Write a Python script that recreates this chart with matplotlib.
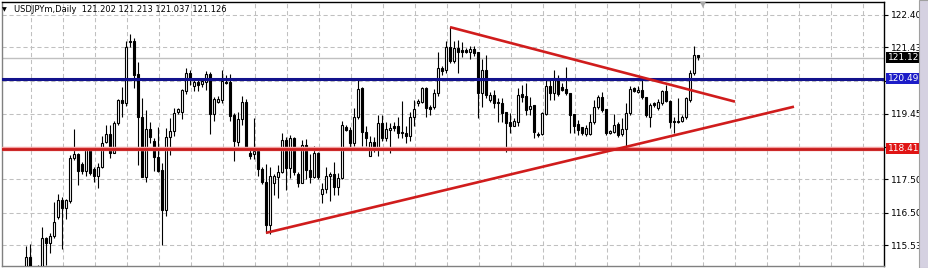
import matplotlib
matplotlib.use("Agg")
import numpy as np
import matplotlib.pyplot as plt
from matplotlib.patches import Rectangle

# daily USDJPYm bars, oldest first
opens = [114.70, 115.18, 114.60, 114.55, 114.80, 115.75, 115.60, 115.81, 116.38, 116.88,
         116.63, 116.86, 118.12, 118.25, 117.95, 117.75, 118.42, 117.80, 117.60, 117.85,
         118.62, 118.84, 118.29, 119.17, 119.86, 119.78, 121.60, 121.63, 120.63, 119.34,
         117.57, 118.99, 118.64, 118.15, 117.77, 116.58, 118.75, 118.93, 119.51, 119.51,
         120.14, 120.67, 120.28, 120.41, 120.34, 120.41, 120.64, 119.44, 119.81, 119.86,
         120.41, 120.41, 119.41, 118.62, 119.29, 119.80, 118.29, 118.24, 118.34, 117.80,
         117.43, 116.13, 117.38, 117.57, 117.72, 118.67, 117.82, 118.72, 117.65, 117.40,
         118.52, 117.77, 117.57, 118.29, 117.06, 117.20, 117.60, 117.65, 117.28, 117.53,
         119.05, 118.97, 118.59, 119.34, 120.21, 118.92, 118.19, 118.62, 118.42, 119.18,
         118.72, 118.97, 119.08, 119.08, 118.92, 118.87, 118.79, 119.36, 119.76, 119.81,
         120.21, 119.64, 119.64, 120.06, 120.80, 120.75, 121.43, 121.03, 121.40, 121.35,
         121.35, 121.30, 121.37, 121.30, 120.06, 120.75, 119.86, 120.01, 119.81, 119.76,
         119.51, 119.20, 119.08, 119.21, 120.04, 119.98, 119.58, 119.71, 118.85, 118.84,
         119.44, 120.28, 120.08, 120.51, 120.24, 120.18, 120.08, 119.43, 119.14, 119.05,
         118.85, 118.85, 119.21, 119.64, 119.94, 119.58, 118.89, 118.92, 119.14, 118.84,
         118.99, 119.46, 120.21, 120.11, 120.16, 119.94, 119.36, 119.76, 119.61, 119.78,
         120.13, 119.84, 119.22, 119.21, 119.24, 119.34, 119.86, 120.66, 121.202]
highs = [115.51, 115.57, 114.85, 114.93, 116.08, 115.78, 115.89, 116.83, 117.06, 116.98,
         116.90, 118.22, 119.00, 118.29, 118.00, 118.47, 118.47, 117.87, 117.97, 118.79,
         119.11, 119.11, 119.22, 119.88, 120.26, 121.63, 121.83, 121.70, 121.00, 119.91,
         119.56, 119.20, 118.72, 119.05, 117.97, 119.02, 119.31, 119.61, 119.61, 120.19,
         120.80, 120.76, 120.47, 120.47, 120.47, 120.73, 120.70, 119.96, 119.98, 120.75,
         120.60, 120.64, 119.48, 119.49, 119.98, 119.88, 118.37, 119.31, 118.37, 117.87,
         117.95, 117.87, 117.65, 117.92, 118.87, 118.77, 118.82, 118.75, 117.72, 118.67,
         118.69, 118.25, 118.49, 118.30, 117.38, 117.87, 117.72, 118.02, 117.68, 119.24,
         119.10, 119.05, 119.61, 120.48, 120.26, 119.08, 118.79, 118.77, 119.41, 119.41,
         119.20, 119.17, 119.20, 119.34, 119.84, 119.08, 119.51, 119.86, 119.88, 120.26,
         120.24, 119.71, 120.19, 121.30, 120.88, 121.63, 122.04, 121.63, 121.65, 121.60,
         121.40, 121.47, 121.47, 121.30, 121.07, 121.20, 120.11, 120.16, 119.91, 119.91,
         119.51, 119.48, 119.31, 120.21, 120.31, 120.36, 119.94, 119.71, 118.92, 119.51,
         120.48, 120.46, 120.75, 120.60, 120.36, 120.83, 120.08, 119.43, 119.26, 119.06,
         119.10, 119.44, 119.86, 120.01, 120.11, 119.60, 118.97, 119.44, 119.21, 119.31,
         119.78, 120.28, 120.26, 120.28, 120.54, 119.96, 119.78, 119.81, 119.88, 120.16,
         120.31, 119.86, 119.36, 119.91, 119.41, 119.96, 120.75, 121.47, 121.213]
lows = [114.50, 114.50, 114.30, 114.30, 114.70, 114.94, 115.29, 115.74, 116.31, 115.41,
        116.30, 116.80, 118.07, 117.34, 117.65, 117.60, 117.63, 117.43, 117.23, 117.82,
        118.59, 118.12, 118.27, 119.11, 119.34, 119.68, 121.45, 120.21, 117.92, 117.55,
        117.43, 118.57, 117.75, 117.72, 115.54, 116.40, 118.22, 118.79, 119.44, 119.28,
        120.04, 120.32, 120.14, 120.14, 120.25, 120.17, 118.85, 119.24, 119.76, 119.78,
        120.33, 119.24, 118.05, 118.50, 119.11, 118.43, 118.10, 118.09, 117.60, 117.35,
        115.89, 115.87, 117.03, 116.93, 117.68, 117.18, 117.53, 117.62, 117.28, 117.38,
        117.50, 117.38, 117.53, 117.50, 116.78, 117.08, 116.86, 117.03, 117.03, 117.50,
        118.95, 118.45, 118.50, 119.28, 118.49, 118.49, 118.19, 118.30, 118.19, 118.64,
        118.65, 118.29, 118.95, 118.72, 118.72, 118.59, 118.65, 119.08, 119.68, 119.78,
        119.36, 119.41, 119.58, 119.98, 120.60, 120.67, 120.97, 120.97, 120.67, 121.13,
        121.25, 121.07, 121.17, 119.31, 119.66, 119.91, 119.81, 119.63, 119.21, 119.21,
        118.32, 118.87, 119.08, 119.08, 119.81, 119.41, 119.41, 118.72, 118.77, 118.82,
        119.41, 119.86, 119.86, 119.98, 120.13, 120.01, 118.89, 118.87, 118.82, 118.82,
        118.80, 118.82, 119.15, 119.60, 119.50, 118.82, 118.85, 118.89, 118.77, 118.80,
        118.49, 119.41, 120.10, 120.08, 119.88, 119.36, 119.05, 119.66, 119.56, 119.72,
        119.80, 119.02, 118.89, 119.17, 119.20, 119.30, 119.81, 120.60, 121.037]
closes = [115.18, 114.70, 114.50, 114.80, 115.74, 115.60, 115.81, 116.22, 116.88, 116.63,
          116.88, 118.12, 118.25, 117.75, 117.75, 118.42, 117.68, 117.60, 117.85, 118.57,
          118.84, 118.29, 119.17, 119.86, 119.78, 121.43, 121.63, 120.60, 119.34, 117.57,
          118.99, 118.75, 118.15, 117.75, 116.58, 118.75, 118.93, 119.46, 119.58, 120.16,
          120.67, 120.48, 120.41, 120.31, 120.44, 120.64, 119.44, 119.89, 119.89, 120.43,
          120.36, 119.38, 118.65, 119.29, 119.80, 118.45, 118.19, 118.34, 117.80, 117.43,
          116.13, 117.60, 117.60, 117.72, 118.67, 117.82, 118.72, 117.72, 117.40, 118.52,
          117.77, 117.57, 118.29, 117.57, 117.21, 117.60, 117.65, 117.28, 117.53, 119.12,
          118.97, 118.59, 119.36, 120.18, 118.92, 118.72, 118.62, 118.42, 119.18, 118.72,
          118.99, 119.02, 119.02, 118.88, 118.87, 118.79, 119.36, 119.58, 119.84, 120.21,
          119.61, 119.58, 120.06, 120.80, 120.73, 121.43, 121.03, 121.40, 121.30, 121.30,
          121.29, 121.37, 121.27, 120.06, 120.75, 120.01, 120.01, 119.76, 119.76, 119.48,
          119.18, 119.08, 119.23, 120.01, 119.96, 119.56, 119.68, 118.92, 118.83, 119.48,
          120.28, 120.08, 120.51, 120.04, 120.16, 120.06, 119.41, 119.08, 118.97, 118.87,
          119.02, 119.21, 119.64, 119.94, 119.56, 118.89, 118.94, 119.12, 118.82, 118.99,
          119.46, 120.18, 120.14, 120.16, 119.96, 119.41, 119.71, 119.71, 119.81, 120.13,
          119.84, 119.21, 119.20, 119.24, 119.36, 119.91, 120.66, 121.20, 121.126]

# price scale labels (two are hidden behind the level boxes)
tick_values = [122.40, 121.43, 120.44, 119.45, 118.47, 117.50, 116.50, 115.53]
tick_labels = ["122.40", "121.43", "", "119.45", "", "117.50", "116.50", "115.53"]

resistance = 120.49
support = 118.41
bid = 121.12

# trend lines: (bar index, price) anchors
down_x = [106, 177.25]
down_y = [122.03, 119.81]
up_x = [60, 192]
up_y = [115.90, 119.66]

title = "USDJPYm,Daily  121.202 121.213 121.037 121.126"

W, H = 929, 268
fig = plt.figure(figsize=(W / 100, H / 100), dpi=100)
fig.patch.set_facecolor("white")
ax = fig.add_axes([2 / W, 2 / H, 882 / W, 264 / H])
ax.set_xlim(-6, 214.5)
ax.set_ylim(114.913, 122.779)

# dashed grid
for v in tick_values:
    ax.axhline(v, color="#c0c0c0", lw=0.75, dashes=(4, 2.7), zorder=1)
for k in range(27):
    ax.axvline(1.25 + 8 * k, color="#c0c0c0", lw=0.75, dashes=(4, 2.7), zorder=1)

# bid line
ax.axhline(bid, color="#c0c0c0", lw=1.0, zorder=2)

o = np.array(opens)
hi = np.array(highs)
lo = np.array(lows)
c = np.array(closes)
x = np.arange(len(o))
up = c >= o

ax.vlines(x, lo, hi, color="black", lw=0.8, zorder=3)
ax.bar(x, np.maximum(np.abs(c - o), 0.012), bottom=np.minimum(o, c), width=0.5,
       color=np.where(up, "white", "black"), edgecolor="black", linewidth=0.8, zorder=4)

# levels and trend lines
ax.axhline(resistance, color="#12128c", lw=2.2, zorder=5)
ax.axhline(support, color="#f4a0a0", lw=3.2, zorder=5)
ax.axhline(support, color="#c81c1c", lw=2.0, zorder=5)
ax.plot(down_x, down_y, color="#d01c1c", lw=1.9, zorder=6, solid_capstyle="butt")
ax.plot(up_x, up_y, color="#d01c1c", lw=1.9, zorder=6, solid_capstyle="butt")

# right price axis
ax.yaxis.tick_right()
ax.set_yticks(tick_values)
ax.set_yticklabels(tick_labels)
ax.set_xticks([])
ax.tick_params(axis="y", labelsize=6.5, length=3, width=0.8, pad=2, colors="black")
for side in ["left", "bottom"]:
    ax.spines[side].set_color("#808080")
ax.spines["right"].set_color("black")
ax.spines["top"].set_color("black")
for s in ax.spines.values():
    s.set_linewidth(1.0)

for val, bg in [(bid, "black"), (resistance, "#1c1cc8"), (support, "#e01414")]:
    ax.annotate("%.2f" % val, xy=(1, val), xycoords=("axes fraction", "data"),
                xytext=(2.5, 0), textcoords="offset points", ha="left", va="center",
                fontsize=6.5, color="white", zorder=10,
                bbox=dict(boxstyle="square,pad=0.12", fc=bg, ec="none"))

# header and misc chart furniture
fig.text(14 / W, 1 - 10 / H, title, fontsize=6.0, va="center", ha="left")
fig.text(4 / W, 1 - 10 / H, "\u25bc", fontsize=4.5, va="center", ha="center")
fig.text(703 / W, 1 - 5 / H, "\u25bc", fontsize=5.5, color="#a8a8a8", va="center", ha="center")
fig.patches.append(Rectangle((919 / W, 0), 10 / W, 1, transform=fig.transFigure,
                             fc="#d5d1e1", ec="#a0a0a0", lw=0.8))

fig.savefig("out.png", dpi=100)
